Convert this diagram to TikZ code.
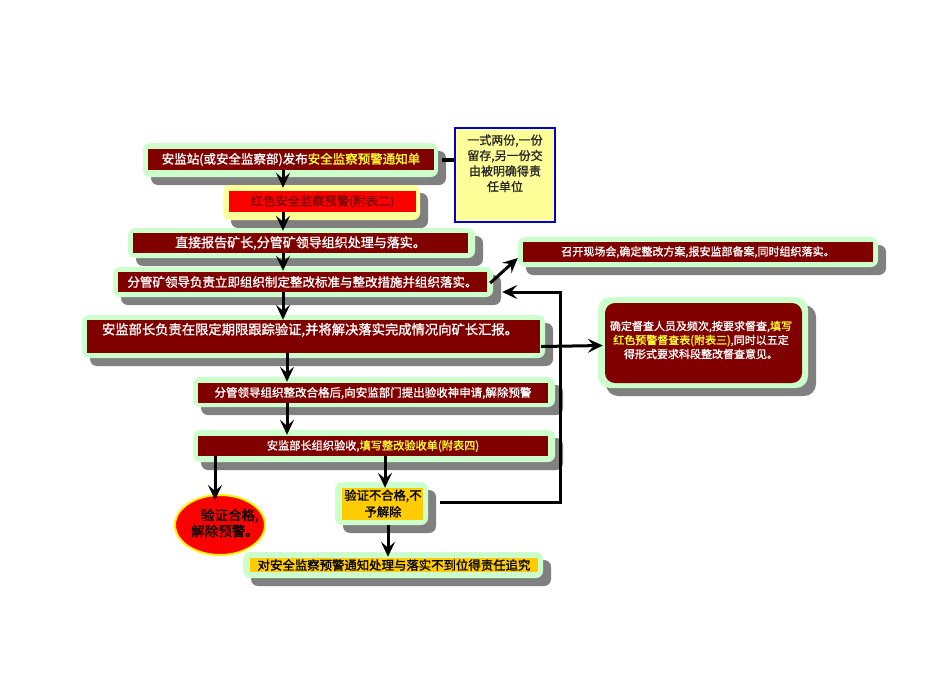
\documentclass[tikz,border=0pt]{standalone}
\usepackage{fontspec}
\setmainfont{Noto Sans CJK SC}[FakeBold=1.3]
\usetikzlibrary{shadows,arrows.meta,calc,shapes.geometric}
\definecolor{maroon}{HTML}{800000}
\definecolor{lgreen}{HTML}{CCFFCC}
\definecolor{shgray}{HTML}{808080}
\definecolor{ylw}{HTML}{FFFF33}
\definecolor{lylw}{HTML}{FFFF99}
\definecolor{gold}{HTML}{FFCC00}
\definecolor{nblue}{HTML}{0000CC}
\begin{document}
\begin{tikzpicture}[x=1pt,y=-1pt,
  outerg/.style={draw=none, fill=lgreen, rounded corners=7pt, inner sep=0pt,
    drop shadow={shadow xshift=8pt,shadow yshift=-8pt,fill=shgray,opacity=1}},
  outery/.style={outerg, fill=lylw},
  innerr/.style={fill=maroon, text=white, inner sep=0pt},
  innerg/.style={fill=gold, text=black, inner sep=0pt},
  conn/.style={line width=3pt, -{Stealth[length=15pt,width=14pt,inset=6pt]}},
  fs/.style={font=\fontsize{#1}{#1}\selectfont}
]
\useasboundingbox (0,0) rectangle (950,672);
\fill[white] (0,0) rectangle (950,672);

% Box 1
\node[outerg, minimum width=295, minimum height=34] (b1o) at (290.5,160) {};
\node[innerr, minimum width=286, minimum height=21, fs=12.5] (b1i) at (291,159.5)
  {安监站(或安全监察部)发布\textcolor{ylw}{安全监察预警通知单}};

% Note
\node[draw=nblue, line width=1.5pt, fill=lylw, minimum width=100, minimum height=94, inner sep=0pt] (note) at (505,175) {};
\node[anchor=north, align=center, text=black!85, font=\fontsize{12}{15.5}\selectfont] (notet) at (505,131)
  {一式两份,一份\\留存,另一份交\\由被明确得责\\任单位};

% Box 2
\node[outery, minimum width=197, minimum height=35] (b2o) at (321.5,202.5) {};
\node[fill=red, text=maroon, inner sep=0pt, minimum width=187, minimum height=21, fs=12.3] (b2i) at (322.5,201.5)
  {红色安全监察预警(附表二)};

% Box 3
\node[outerg, minimum width=347, minimum height=30] (b3o) at (301.5,243) {};
\node[innerr, minimum width=335, minimum height=20, fs=13] (b3i) at (300.5,243)
  {直接报告矿长,分管矿领导组织处理与落实。};

% Box 4
\node[outerg, minimum width=380, minimum height=30] (b4o) at (303,282) {};
\node[innerr, minimum width=369, minimum height=20, fs=12.5] (b4i) at (302.5,282)
  {分管矿领导负责立即组织制定整改标准与整改措施并组织落实。};

% Box 5
\node[outerg, minimum width=463, minimum height=43] (b5o) at (313.5,336.5) {};
\node[innerr, minimum width=453, minimum height=33] (b5i) at (313.5,336.5) {};
\node[text=white, fs=13.3, inner sep=0pt] (b5t) at (310,330)
  {安监部长负责在限定期限跟踪验证,并将解决落实完成情况向矿长汇报。};

% Box 6
\node[outerg, minimum width=360, minimum height=30] (b6o) at (698,252) {};
\node[innerr, minimum width=350, minimum height=20, fs=11] (b6i) at (698,252)
  {召开现场会,确定整改方案,报安监部备案,同时组织落实。};

% Box 7
\node[outerg, rounded corners=12pt, minimum width=210, minimum height=91] (b7o) at (703,342.5) {};
\node[innerr, rounded corners=10pt, minimum width=197, minimum height=80] (b7i) at (703.5,343) {};
\node[text=white, align=center, inner sep=0pt, font=\fontsize{11}{14}\selectfont] (b7t) at (701,340)
  {确定督查人员及频次,按要求督查,\textcolor{ylw}{填写}\\
   \textcolor{ylw}{红色预警督查表(附表三)},同时以五定\\
   得形式要求科段整改督查意见。};

% Box 8
\node[outerg, minimum width=362, minimum height=30] (b8o) at (374,392) {};
\node[innerr, minimum width=350, minimum height=20, fs=11.5] (b8i) at (373,393)
  {分管领导组织整改合格后,向安监部门提出验收神申请,解除预警};

% Box 9
\node[outerg, minimum width=362, minimum height=32] (b9o) at (374,446) {};
\node[innerr, minimum width=350, minimum height=20, fs=11.2] (b9i) at (373,446)
  {安监部长组织验收,\textcolor{ylw}{填写整改验收单(附表四)}};

% Ellipse
\node[ellipse, draw=yellow, line width=2pt, fill=red, minimum width=90, minimum height=60, inner sep=0pt] (ell) at (220,525) {};
\node[align=right, text=black, inner sep=0pt, font=\fontsize{13.5}{16}\selectfont] (ellt) at (225,523)
  {验证合格,\\解除预警。};

% Box 10
\node[outerg, minimum width=93, minimum height=43] (b10o) at (381.5,503.5) {};
\node[innerg, minimum width=81, minimum height=32] (b10i) at (382.5,504) {};
\node[align=center, text=black, inner sep=0pt, font=\fontsize{12.3}{16.5}\selectfont] (b10t) at (383,503.5)
  {验证不合格,不\\予解除};

% Box 11
\node[outerg, minimum width=300, minimum height=26] (b11o) at (393,565) {};
\node[innerg, minimum width=288, minimum height=14, fs=12.4] (b11i) at (394,565)
  {对安全监察预警通知处理与落实不到位得责任追究};

% columns
\coordinate (cA) at (283,0);
\coordinate (cB) at (287,0);
\coordinate (cC) at (215,0);
\coordinate (cD) at (385,0);
\coordinate (cE) at (388,0);
\coordinate (lx) at (560,0);

% Connectors
\draw[line width=4.5pt] ($(b1o.east)+(4,0)$) -- (b1o.east -| note.west);
\draw[conn] (b1i.south -| cA) -- ($(b2o.north -| cA)+(0,3)$);
\draw[conn] (b2i.south -| cA) -- ($(b3o.north -| cA)+(0,3)$);
\draw[conn] (b3i.south -| cA) -- ($(b4o.north -| cA)+(0,4)$);
\draw[conn] (b4i.south -| cA) -- ($(b5o.north -| cA)+(0,5)$);
\draw[conn] (b5i.south -| cB) -- ($(b8o.north -| cB)+(0,5)$);
\draw[conn] (b8i.south -| cB) -- ($(b9o.north -| cB)+(0,5)$);
\draw[conn] (b9i.south -| cC) -- ($(ell.north -| cC)+(0,6)$);
\draw[conn] (b9i.south -| cD) -- ($(b10o.north -| cD)+(0,6)$);
\draw[conn] (b10o.south -| cE) -- ($(b11o.north -| cE)+(0,5)$);
\draw[conn] ($(b4o.east)+(-3,1)$) -- ($(b6o.west)+(0,6)$);
\draw[conn] ($(b5o.east)+(-4,10)$) -- ($(b7o.west)+(5,3)$);
\coordinate (lt) at ($(b4o.east)+(9,10)$);
\coordinate (ls) at ($(b10o.east)+(12,-1)$);
\draw[conn] (ls) -- (ls -| lx) -- (lx |- lt) -- (lt);
\end{tikzpicture}
\end{document}
